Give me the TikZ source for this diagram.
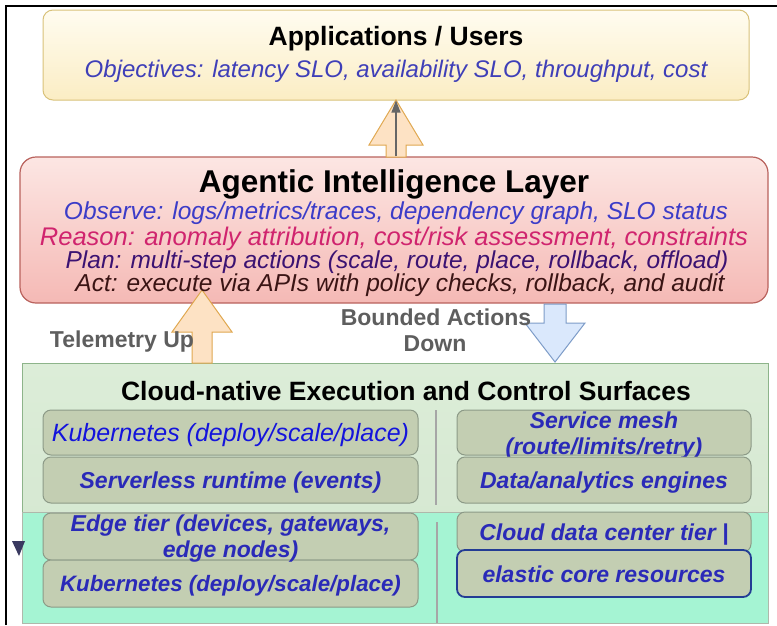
\documentclass[tikz,border=0pt]{standalone}
\usepackage{fontspec}
\setmainfont{Liberation Sans}
\usetikzlibrary{arrows.meta}
\definecolor{appT}{HTML}{FFFCF0}
\definecolor{appB}{HTML}{FBEDC4}
\definecolor{appD}{HTML}{D9C27A}
\definecolor{agT}{HTML}{FCE6E3}
\definecolor{agB}{HTML}{F5B9B5}
\definecolor{agD}{HTML}{B9625D}
\definecolor{peachF}{HTML}{FDE2C4}
\definecolor{peachD}{HTML}{E0A850}
\definecolor{bluF}{HTML}{DAE8FC}
\definecolor{bluD}{HTML}{7D9CC8}
\definecolor{grnT}{HTML}{DCEDD8}
\definecolor{grnB}{HTML}{D2E5CE}
\definecolor{grnD}{HTML}{8DB48A}
\definecolor{mint}{HTML}{A5F4D3}
\definecolor{itemF}{HTML}{C3CEB2}
\definecolor{itemD}{HTML}{8C9A87}
\definecolor{txtblue}{HTML}{2A2AB8}
\definecolor{kblue}{HTML}{1414DC}
\definecolor{objc}{HTML}{3F3FB8}
\definecolor{obsc}{HTML}{3C3CC8}
\definecolor{reac}{HTML}{D0246E}
\definecolor{planc}{HTML}{3B1272}
\definecolor{actc}{HTML}{3A1414}
\definecolor{grayt}{HTML}{5E5E5E}
\definecolor{elD}{HTML}{233C94}
\begin{document}
\begin{tikzpicture}[x=1pt,y=-1pt,
  itembox/.style={draw=itemD, fill=itemF, rounded corners=8pt, line width=1pt, inner sep=0pt},
  itemtxt/.style={anchor=base, inner sep=0pt, text=txtblue, font=\fontsize{23}{25}\selectfont\bfseries\itshape},
  agline/.style={anchor=base, inner sep=0pt, font=\fontsize{24.5}{25}\selectfont\itshape},
  sidetxt/.style={anchor=base, inner sep=0pt, text=grayt, font=\fontsize{23}{25}\selectfont\bfseries},
  titletxt/.style={anchor=base, inner sep=0pt, font=\bfseries},
  blockup/.style={draw=peachD, fill=peachF, line width=1pt, line join=miter},
  blockdown/.style={draw=bluD, fill=bluF, line width=1pt, line join=miter}]
\useasboundingbox (0,0) rectangle (777,625);
\fill[white] (0,0) rectangle (777,625);
% frame
\draw[line width=1.3pt] (6,625) -- (6,6) -- (777,6);
% applications box
\node[draw=appD, top color=appT, bottom color=appB, rounded corners=10pt, line width=1pt,
  minimum width=706pt, minimum height=90pt, inner sep=0pt] (app) at (396,55) {};
% agentic box
\node[draw=agD, top color=agT, bottom color=agB, rounded corners=16pt, line width=1.2pt,
  minimum width=748pt, minimum height=146pt, inner sep=0pt] (ag) at (394,230) {};
% green container
\node[draw=grnD, top color=grnT, bottom color=grnB, line width=1pt,
  minimum width=746pt, minimum height=260pt, inner sep=0pt] (cn) at (395,493) {};
\node[draw=itemD!70, fill=mint, line width=1pt,
  minimum width=746pt, minimum height=111pt, inner sep=0pt] (mintzone) at (395,567.5) {};
% block arrow up to applications
\draw[blockup] (396,100) -- (423,145) -- (406,145) -- (406,157) -- (386,157) -- (386,145) -- (369,145) -- cycle;
\draw[draw=gray!80!black, line width=1.1pt, -{Triangle[length=12pt,width=9pt]}] (app.south |- ag.north) -- (app.south);
% telemetry up arrow
\draw[blockup] (202,290) -- (232,332) -- (212,332) -- (212,363) -- (192,363) -- (192,332) -- (172,332) -- cycle;
% bounded actions down arrow
\draw[blockdown] (544,304) -- (566,304) -- (566,323) -- (585,323) -- (555,362) -- (525,323) -- (544,323) -- cycle;
% small triangle
\fill[gray!75!blue!60!black] (12,541) -- (25,541) -- (19,556) -- cycle;
% texts top
\node[titletxt, font=\fontsize{26.5}{28}\selectfont\bfseries] (apptitle) at (396,45) {Applications / Users};
\node[anchor=base, inner sep=0pt, text=objc, font=\fontsize{24}{25}\selectfont\itshape] (obj) at (396,77) {Objectives: latency SLO, availability SLO, throughput, cost};
\node[titletxt, font=\fontsize{31.5}{33}\selectfont\bfseries] (agtitle) at (394,192) {Agentic Intelligence Layer};
\node[agline, text=obsc] (obs) at (396,219) {Observe: logs/metrics/traces, dependency graph, SLO status};
\node[agline, text=reac, font=\fontsize{25.5}{26}\selectfont\itshape] (rea) at (394,245) {Reason: anomaly attribution, cost/risk assessment, constraints};
\node[agline, text=planc] (pla) at (397,268) {Plan: multi-step actions (scale, route, place, rollback, offload)};
\node[agline, text=actc] (act) at (400,291) {Act: execute via APIs with policy checks, rollback, and audit};
\node[sidetxt] (tel) at (122,347) {Telemetry Up};
\node[sidetxt] (bnd1) at (436,325) {Bounded Actions};
\node[sidetxt] (bnd2) at (435,351) {Down};
\node[titletxt, font=\fontsize{26.5}{28}\selectfont\bfseries] (cntitle) at (406,400) {Cloud-native Execution and Control Surfaces};
% dividers
\draw[gray!70, line width=1.4pt] (436,410) -- (436,505);
\draw[gray!70, line width=1.4pt] (437,522) -- (437,623);
% left column
\node[itembox, minimum width=375pt, minimum height=45pt] (k1) at (230.5,432.5) {};
\node[anchor=base, inner sep=0pt, text=kblue, font=\fontsize{25}{25}\selectfont\itshape] (k1t) at (230.5,441) {Kubernetes (deploy/scale/place)};
\node[itembox, minimum width=375pt, minimum height=46pt] (sv) at (230.5,480) {};
\node[itemtxt] (svt) at (230.5,488) {Serverless runtime (events)};
% right column
\node[itembox, minimum width=294pt, minimum height=45pt] (sm) at (604,432.5) {};
\node[itemtxt] (smt1) at (604,428) {Service mesh};
\node[itemtxt] (smt2) at (604,454) {(route/limits/retry)};
\node[itembox, minimum width=294pt, minimum height=46pt] (da) at (604,480) {};
\node[itemtxt] (dat) at (604,488) {Data/analytics engines};
% bottom left
\node[itembox, minimum width=375pt, minimum height=47pt] (ed) at (230.5,536.5) {};
\node[itembox, minimum width=375pt, minimum height=47pt] (k2) at (230.5,583.5) {};
\node[itemtxt] (edt1) at (230.5,531) {Edge tier (devices, gateways,};
\node[itemtxt] (edt2) at (230.5,557) {edge nodes)};
\node[itemtxt, font=\fontsize{22.3}{25}\selectfont\bfseries\itshape] (k2t) at (230.5,591) {Kubernetes (deploy/scale/place)};
% bottom right
\node[itembox, minimum width=294pt, minimum height=40pt] (dc) at (604,532) {};
\node[itemtxt] (dct) at (604,540) {Cloud data center tier |};
\node[itembox, draw=elD, line width=1.8pt, minimum width=294pt, minimum height=47pt] (el) at (604,573.5) {};
\node[itemtxt] (elt) at (604,582) {elastic core resources};
\end{tikzpicture}
\end{document}
